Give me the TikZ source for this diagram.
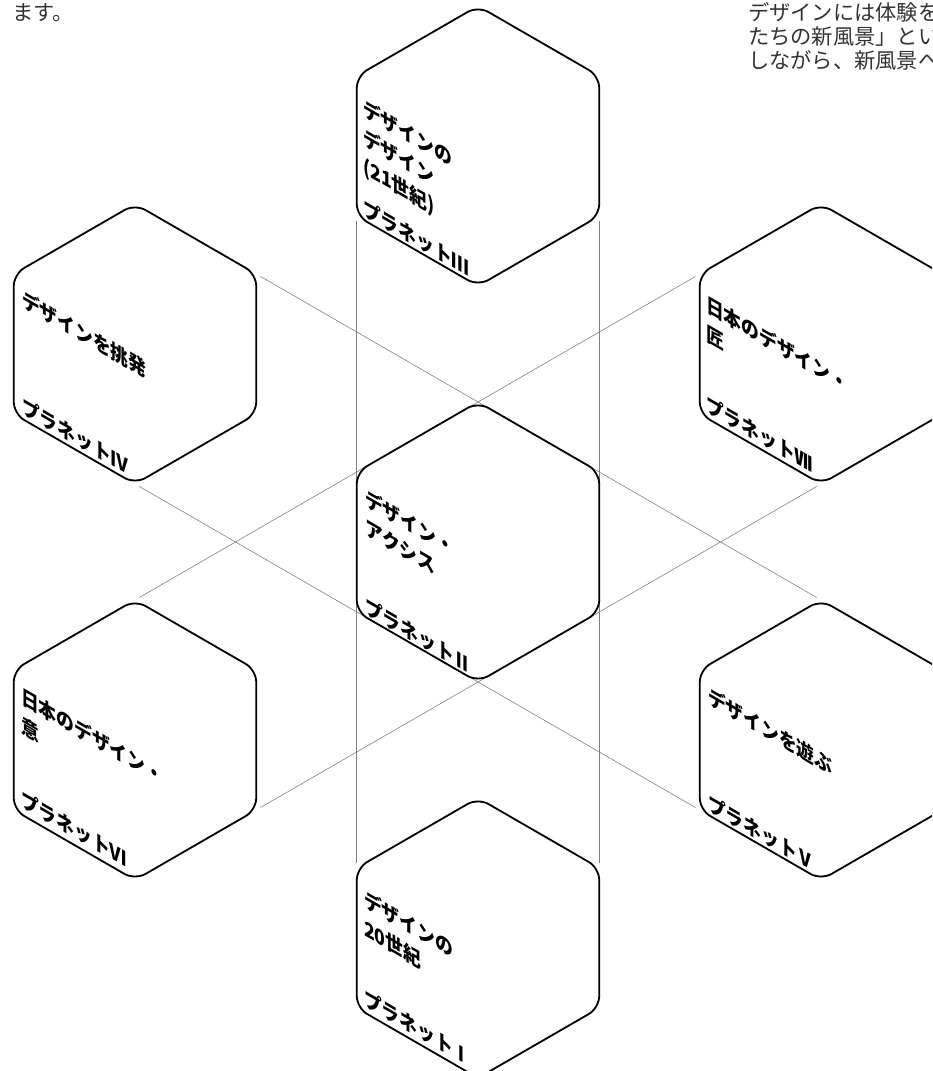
\documentclass[tikz,border=0pt]{standalone}
\usepackage{fontspec}
\newfontfamily\jp{Noto Sans CJK JP}
\begin{document}
\begin{tikzpicture}[x=1pt,y=1pt,
  hexbox/.style={draw=black, line width=1.8pt, fill=white, rounded corners=12pt},
  guide/.style={draw=black!50, line width=0.6pt, shorten <=5pt, shorten >=5pt},
  hexlabel/.style={font=\jp\bfseries\fontsize{20.5}{29}\selectfont, anchor=north west, inner sep=0pt, align=left, cm={0.866,-0.5,0,1,(0,0)}},
  pagetext/.style={font=\jp\fontsize{21.25}{24}\selectfont, text=black!80, anchor=base west, inner sep=0pt}]
\useasboundingbox (0,0) rectangle (932,1071);
\clip (0,0) rectangle (932,1071);
\def\hexlist{C/478/529, T/478/925, B/478/133, UL/135/727, UR/821/727, LL/135/331, LR/821/331}
% hexagon centres and corners (1 top, 2 upper right, 3 lower right, 4 bottom, 5 lower left, 6 upper left)
\foreach \n/\cx/\cy in \hexlist {
  \coordinate (\n) at (\cx,\cy);
  \foreach \a [count=\i] in {90,30,-30,-90,-150,150} {
    \path (\cx,\cy) ++(\a:140) coordinate (\n\i);
  }
}
% guide lines (extensions of the central hexagon's edges)
\draw[guide] (T5) -- (B6);
\draw[guide] (T3) -- (B2);
\draw[guide] (UL2) -- (LR1);
\draw[guide] (UR6) -- (LL1);
\draw[guide] (UL4) -- (LR5);
\draw[guide] (UR4) -- (LL3);
% hexagons
\foreach \n/\cx/\cy in \hexlist {
  \draw[hexbox] (\cx-121.24,\cy) -- (\n6) -- (\n1) -- (\n2) -- (\n3) -- (\n4) -- (\n5) -- cycle;
}
% labels
\node[hexlabel] (t3) at (363,974) {デザインの\\デザイン\\(21世紀)};
\node[hexlabel] (p3) at (363,874) {プラネットⅢ};
\node[hexlabel] (t4) at (22,783) {デザインを挑発};
\node[hexlabel] (p4) at (22,676) {プラネットⅣ};
\node[hexlabel] (t7) at (706,778) {日本のデザイン・\\匠};
\node[hexlabel] (p7) at (706,678) {プラネットⅦ};
\node[hexlabel] (t2) at (365,584) {デザイン・\\アクシス};
\node[hexlabel] (p2) at (365,476) {プラネットⅡ};
\node[hexlabel] (t6) at (21,386) {日本のデザイン・\\意};
\node[hexlabel] (p6) at (21,283) {プラネットⅥ};
\node[hexlabel] (t5) at (708,386) {デザインを遊ぶ};
\node[hexlabel] (p5) at (708,279) {プラネットⅤ};
\node[hexlabel] (t1) at (364,183) {デザインの\\20世紀};
\node[hexlabel] (p1) at (364,84) {プラネットⅠ};
% page text
\node[pagetext] (m1) at (12,1050) {ます。};
\node[pagetext] (r1) at (748,1050) {デザインには体験を};
\node[pagetext] (r2) at (748,1026) {たちの新風景」とい};
\node[pagetext] (r3) at (748,1002) {しながら、新風景へ};
\end{tikzpicture}
\end{document}
